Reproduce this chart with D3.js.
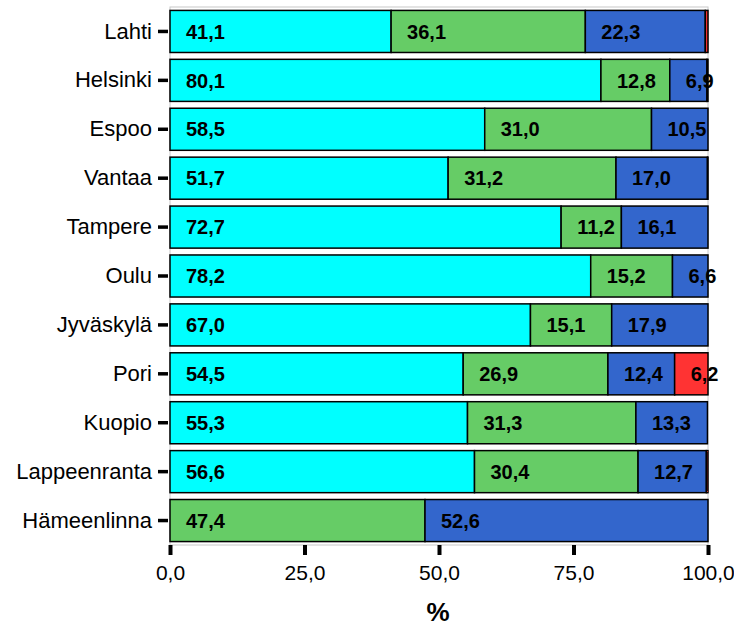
<!DOCTYPE html>
<html><head><meta charset="utf-8">
<script src="https://cdn.jsdelivr.net/npm/d3@7"></script>
<style>body{margin:0;background:#fff}svg{display:block}</style>
</head><body>
<svg id="c" width="734" height="628"></svg>
<script>
const cities = ["Lahti","Helsinki","Espoo","Vantaa","Tampere","Oulu","Jyväskylä","Pori","Kuopio","Lappeenranta","Hämeenlinna"];
const s1 = [41.1,80.1,58.5,51.7,72.7,78.2,67.0,54.5,55.3,56.6,0];
const s2 = [36.1,12.8,31.0,31.2,11.2,15.2,15.1,26.9,31.3,30.4,47.4];
const s3 = [22.3,6.9,10.5,17.0,16.1,6.6,17.9,12.4,13.3,12.7,52.6];
const s4 = [0.5,0.2,0,0.1,0,0,0,6.2,0,0.3,0];
const seriesColors = ["#00FFFF","#66CC66","#3366CC","#FF3333"];
const xTicks = [0,25,50,75,100];

const svg = d3.select("#c");
const L = 170, R = 708, T = 7, B = 545;
const x = d3.scaleLinear().domain([0,100]).range([L,R]);
const y = d3.scaleBand().domain(cities).range([T,B]).paddingInner(0.14).paddingOuter(0.07);
const fmt = v => d3.format(".1f")(v).replace(".", ",");
const FF = "Liberation Sans, Arial, sans-serif";

// frame
svg.append("rect").attr("x",L).attr("y",T).attr("width",R-L).attr("height",B-T)
  .attr("fill","none").attr("stroke","#c8c8c8").attr("stroke-width",1);

const series = [s1,s2,s3,s4];
cities.forEach((c,i)=>{
  let acc = 0;
  series.forEach((s,k)=>{
    const v = s[i];
    if(v>0){
      svg.append("rect").attr("x",x(acc)).attr("y",y(c)).attr("width",x(acc+v)-x(acc)).attr("height",y.bandwidth())
        .attr("fill",seriesColors[k]).attr("stroke","#000").attr("stroke-width",1.5);
    }
    acc += v;
  });
});
cities.forEach((c,i)=>{
  let acc = 0;
  series.forEach((s,k)=>{
    const v = s[i];
    if(v>=1){
      svg.append("text").attr("x",x(acc)+16).attr("y",y(c)+y.bandwidth()/2).attr("dy","0.36em")
        .attr("font-family",FF).attr("font-weight","bold").attr("font-size",20)
        .attr("fill","#000").text(fmt(v));
    }
    acc += v;
  });
});

// y axis
const ya = svg.append("g").attr("transform",`translate(${L-2},0)`)
  .call(d3.axisLeft(y).tickSize(10).tickPadding(6));
ya.select(".domain").remove();
ya.selectAll(".tick line").attr("stroke","#000").attr("stroke-width",3.5);
ya.selectAll(".tick text").attr("font-family",FF).attr("font-size",22).attr("fill","#000");

// x axis
const xa = svg.append("g").attr("transform",`translate(0,${B})`)
  .call(d3.axisBottom(x).tickValues(xTicks).tickFormat(fmt).tickSize(10).tickPadding(10));
xa.select(".domain").remove();
xa.selectAll(".tick line").attr("stroke","#000").attr("stroke-width",4);
xa.selectAll(".tick text").attr("font-family",FF).attr("font-size",21).attr("fill","#000");

svg.append("text").attr("x",438).attr("y",621).attr("text-anchor","middle")
  .attr("font-family",FF).attr("font-weight","bold").attr("font-size",26).text("%");
</script>
</body></html>
